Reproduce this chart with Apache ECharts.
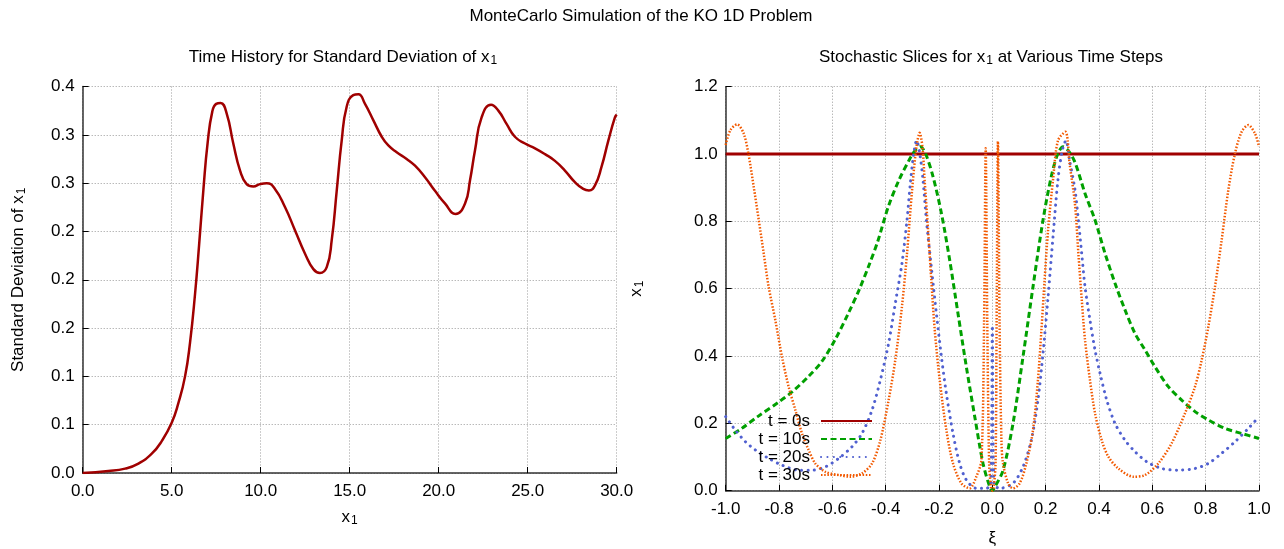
<!DOCTYPE html>
<html>
<head>
<meta charset="utf-8">
<title>MonteCarlo Simulation of the KO 1D Problem</title>
<script src="https://cdn.jsdelivr.net/npm/echarts@6/dist/echarts.min.js"></script>
<style>
  html, body { margin: 0; padding: 0; background: #fff; }
  #chart { width: 1284px; height: 549px; }
</style>
</head>
<body>
<div id="chart"></div>
<script>
// time history of std deviation of x1 (left panel)
const timeT = [0, 1.44, 2.38, 3.13, 3.88, 4.44, 5.0, 5.37, 5.75, 6.03, 6.31, 6.54, 6.78, 7.02, 7.28, 7.5, 7.75, 8.09, 8.46, 8.84, 9.21, 9.59, 9.96, 10.34, 10.8, 11.37, 11.93, 12.49, 12.96, 13.33, 13.71, 13.99, 14.27, 14.55, 14.83, 15.2, 15.49, 15.86, 16.33, 16.8, 17.17, 17.64, 18.2, 18.67, 19.23, 19.79, 20.35, 20.95, 21.48, 21.76, 22.04, 22.41, 22.94, 23.35, 23.82, 24.28, 24.85, 25.41, 25.97, 26.53, 27.09, 27.65, 28.12, 28.44, 28.78, 29.15, 29.53, 29.9, 30.0]
const stdDev = [0, 0.002, 0.0045, 0.0097, 0.02, 0.033, 0.052, 0.072, 0.1, 0.135, 0.185, 0.236, 0.293, 0.342, 0.374, 0.382, 0.383, 0.372, 0.341, 0.313, 0.299, 0.2966, 0.299, 0.300, 0.294, 0.275, 0.251, 0.227, 0.211, 0.207, 0.213, 0.241, 0.292, 0.344, 0.379, 0.391, 0.392, 0.382, 0.365, 0.348, 0.339, 0.332, 0.325, 0.318, 0.306, 0.292, 0.279, 0.268, 0.279, 0.303, 0.334, 0.368, 0.381, 0.375, 0.361, 0.348, 0.341, 0.336, 0.330, 0.323, 0.313, 0.301, 0.294, 0.2924, 0.2976, 0.317, 0.344, 0.368, 0.371]
// gnuplot printed the 0.05 ticks with one decimal
const stdTickLabels = ['0.0', '0.1', '0.1', '0.2', '0.2', '0.2', '0.3', '0.3', '0.4']

// stochastic slices (right panel)
const xi0 = [-1.0, 1.0]
const x1t0 = [1.0, 1.0]

const xi10 = [-1.0, -0.94, -0.88, -0.8, -0.75, -0.69, -0.64, -0.59, -0.54, -0.5, -0.46, -0.43, -0.39, -0.35, -0.31, -0.29, -0.27, -0.25, -0.2225, -0.191, -0.16, -0.129, -0.0975, -0.066, -0.035, -0.01, 0, 0.01, 0.04, 0.0775, 0.115, 0.1525, 0.19, 0.221, 0.245, 0.265, 0.285, 0.31, 0.3475, 0.385, 0.4225, 0.46, 0.4975, 0.535, 0.5725, 0.61, 0.66, 0.71, 0.76, 0.81, 0.8725, 0.935, 1.0]
const x1t10 = [0.155, 0.185, 0.22, 0.264, 0.294, 0.339, 0.383, 0.448, 0.527, 0.596, 0.675, 0.74, 0.844, 0.923, 0.985, 1.01, 1.022, 1.0, 0.933, 0.824, 0.685, 0.527, 0.368, 0.22, 0.081, 0.012, 0, 0.012, 0.06, 0.2, 0.398, 0.606, 0.804, 0.933, 1.0, 1.022, 1.01, 0.975, 0.883, 0.804, 0.705, 0.616, 0.537, 0.467, 0.418, 0.368, 0.309, 0.269, 0.235, 0.21, 0.185, 0.17, 0.155]

const xi20 = [-1.0, -0.964, -0.926, -0.889, -0.839, -0.789, -0.726, -0.676, -0.626, -0.576, -0.526, -0.489, -0.451, -0.42, -0.389, -0.364, -0.339, -0.32, -0.3075, -0.295, -0.284, -0.272, -0.26, -0.2475, -0.229, -0.21, -0.191, -0.1725, -0.1475, -0.1225, -0.0975, -0.06, -0.0225, -0.006, 0, 0.006, 0.0275, 0.0775, 0.115, 0.146, 0.171, 0.19, 0.209, 0.2275, 0.246, 0.262, 0.276, 0.29, 0.31, 0.3225, 0.335, 0.3475, 0.366, 0.385, 0.404, 0.429, 0.46, 0.4975, 0.535, 0.579, 0.635, 0.6975, 0.76, 0.81, 0.86, 0.91, 0.96, 1.0]
const x1t20 = [0.22, 0.18, 0.1455, 0.121, 0.096, 0.076, 0.061, 0.061, 0.071, 0.096, 0.131, 0.17, 0.24, 0.329, 0.438, 0.556, 0.675, 0.804, 0.913, 1.0, 1.04, 1.0, 0.923, 0.804, 0.665, 0.527, 0.398, 0.289, 0.17, 0.081, 0.032, 0.007, 0.007, 0.02, 0.49, 0.02, 0.007, 0.022, 0.071, 0.15, 0.269, 0.408, 0.576, 0.754, 0.923, 1.01, 1.04, 0.98, 0.893, 0.804, 0.705, 0.606, 0.507, 0.418, 0.3485, 0.269, 0.2, 0.15, 0.116, 0.086, 0.066, 0.061, 0.066, 0.081, 0.111, 0.1455, 0.185, 0.22]

const xi30 = [-1.0, -0.9825, -0.9575, -0.9325, -0.914, -0.895, -0.876, -0.8575, -0.839, -0.814, -0.789, -0.764, -0.739, -0.714, -0.689, -0.664, -0.626, -0.576, -0.5325, -0.489, -0.451, -0.42, -0.389, -0.364, -0.339, -0.32, -0.301, -0.285, -0.2725, -0.262, -0.254, -0.241, -0.229, -0.216, -0.1975, -0.1725, -0.1475, -0.116, -0.085, -0.06, -0.041, -0.031, -0.025, -0.019, -0.012, -0.005, 0, 0.005, 0.012, 0.016, 0.021, 0.027, 0.034, 0.04, 0.06, 0.0775, 0.1025, 0.1275, 0.1525, 0.171, 0.184, 0.196, 0.209, 0.2275, 0.246, 0.274, 0.29, 0.31, 0.323, 0.335, 0.3475, 0.366, 0.385, 0.41, 0.435, 0.4725, 0.529, 0.5725, 0.6225, 0.6725, 0.7225, 0.76, 0.785, 0.81, 0.835, 0.86, 0.885, 0.91, 0.935, 0.96, 0.985, 1.0]
const x1t30 = [1.027, 1.071, 1.088, 1.061, 0.997, 0.903, 0.804, 0.705, 0.606, 0.507, 0.398, 0.309, 0.24, 0.17, 0.121, 0.081, 0.056, 0.0465, 0.0416, 0.0515, 0.081, 0.15, 0.269, 0.388, 0.547, 0.705, 0.893, 1.02, 1.063, 1.02, 0.923, 0.774, 0.626, 0.477, 0.329, 0.18, 0.081, 0.022, 0.007, 0.042, 0.091, 0.5, 1.017, 0.5, 0.08, 0.01, 0, 0.01, 0.08, 0.5, 1.037, 0.5, 0.15, 0.081, 0.02, 0.007, 0.022, 0.081, 0.18, 0.329, 0.477, 0.626, 0.774, 0.923, 1.04, 1.066, 0.97, 0.85, 0.7, 0.57, 0.448, 0.329, 0.23, 0.15, 0.101, 0.066, 0.0416, 0.0465, 0.081, 0.141, 0.23, 0.309, 0.388, 0.487, 0.606, 0.745, 0.893, 1.002, 1.066, 1.086, 1.061, 1.022]

const sliceNames = ['t = 0s', 't = 10s', 't = 20s', 't = 30s']

const pairs = (xs, ys) => xs.map((x, i) => [x, ys[i]])

const FONT = '"Liberation Sans", Arial, Helvetica, sans-serif'
const sub = { fontSize: 12, padding: [7, 0, 0, 1], fontFamily: FONT, color: '#000' }

const fmt1 = v => (Math.abs(v) < 1e-9 ? '0.0' : v.toFixed(1))

const axisCommon = {
  axisLine: { show: true, onZero: false, lineStyle: { color: '#333', width: 1.5 } },
  axisTick: { show: true, inside: true, length: 6, lineStyle: { color: '#000', width: 1 } },
  axisLabel: { color: '#000', fontSize: 17, fontFamily: FONT },
  splitLine: { show: true, lineStyle: { color: '#9a9a9a', width: 1, type: [1, 2] } },
  nameTextStyle: { color: '#000', fontSize: 17, fontFamily: FONT, rich: { sub } }
}

const titleStyle = { fontSize: 17, fontWeight: 'normal', color: '#000', fontFamily: FONT, rich: { sub } }

const chart = echarts.init(document.getElementById('chart'), null, { renderer: 'canvas' })

const option = {
  animation: false,
  backgroundColor: '#fff',
  textStyle: { fontFamily: FONT },
  title: [
    { text: 'MonteCarlo Simulation of the KO 1D Problem', left: 641, top: 8, textAlign: 'center', padding: 0, textStyle: titleStyle },
    { text: 'Time History for Standard Deviation of x{sub|1}', left: 343, top: 48, textAlign: 'center', padding: 0, textStyle: titleStyle },
    { text: 'Stochastic Slices for x{sub|1} at Various Time Steps', left: 991, top: 48, textAlign: 'center', padding: 0, textStyle: titleStyle }
  ],
  legend: {
    data: sliceNames,
    orient: 'vertical',
    align: 'right',
    right: 411,
    top: 412,
    padding: 0,
    itemWidth: 51,
    itemHeight: 12,
    itemGap: 0,
    itemStyle: { opacity: 0 },
    textStyle: { fontSize: 17, color: '#000', fontFamily: FONT, lineHeight: 18, padding: [0, 6, 0, 0] }
  },
  grid: [
    { left: 82.7, top: 86.5, width: 534, bottom: 76, outerBoundsMode: 'none' },
    { left: 725.7, top: 86.7, right: 25, bottom: 58.3, outerBoundsMode: 'none' }
  ],
  xAxis: [
    {
      ...axisCommon, gridIndex: 0, type: 'value', min: 0, max: 30, interval: 5,
      name: 'x{sub|1}', nameLocation: 'middle', nameGap: 35,
      axisLabel: { ...axisCommon.axisLabel, margin: 10, formatter: fmt1 }
    },
    {
      ...axisCommon, gridIndex: 1, type: 'value', min: -1, max: 1, interval: 0.2,
      name: 'ξ', nameLocation: 'middle', nameGap: 39,
      axisLabel: { ...axisCommon.axisLabel, margin: 10, formatter: fmt1 }
    }
  ],
  yAxis: [
    {
      ...axisCommon, gridIndex: 0, type: 'value', min: 0, max: 0.4, interval: 0.05,
      name: 'Standard Deviation of x{sub|1}', nameLocation: 'middle', nameRotate: 90, nameGap: 55,
      axisLabel: { ...axisCommon.axisLabel, margin: 8, formatter: v => stdTickLabels[Math.round(v / 0.05)] }
    },
    {
      ...axisCommon, gridIndex: 1, type: 'value', min: 0, max: 1.2, interval: 0.2,
      name: 'x{sub|1}', nameLocation: 'middle', nameRotate: 90, nameGap: 80,
      axisLabel: { ...axisCommon.axisLabel, margin: 8, formatter: fmt1 }
    }
  ],
  series: [
    {
      type: 'line', xAxisIndex: 0, yAxisIndex: 0, data: pairs(timeT, stdDev),
      showSymbol: false, symbol: 'none', smooth: 0.5,
      lineStyle: { color: '#a00000', width: 2.5 }, silent: true
    },
    {
      name: sliceNames[0], type: 'line', xAxisIndex: 1, yAxisIndex: 1, data: pairs(xi0, x1t0),
      symbol: 'none', lineStyle: { color: '#a00000', width: 3 }, itemStyle: { color: '#a00000' }
    },
    {
      name: sliceNames[1], type: 'line', xAxisIndex: 1, yAxisIndex: 1, data: pairs(xi10, x1t10),
      symbol: 'none', smooth: 0.3,
      lineStyle: { color: '#00a000', width: 3, type: [6, 3.5] }, itemStyle: { color: '#00a000' }
    },
    {
      name: sliceNames[2], type: 'line', xAxisIndex: 1, yAxisIndex: 1, data: pairs(xi20, x1t20),
      symbol: 'none', smooth: 0.3,
      lineStyle: { color: '#5060d0', width: 3, type: [0.1, 6.3], cap: 'round' }, itemStyle: { color: '#5060d0' }
    },
    {
      name: sliceNames[3], type: 'line', xAxisIndex: 1, yAxisIndex: 1, data: pairs(xi30, x1t30),
      symbol: 'none', smooth: 0.3,
      lineStyle: { color: '#f25900', width: 2.5, type: [1.5, 1.7] }, itemStyle: { color: '#f25900' }
    }
  ]
}

chart.setOption(option)
</script>
</body>
</html>
